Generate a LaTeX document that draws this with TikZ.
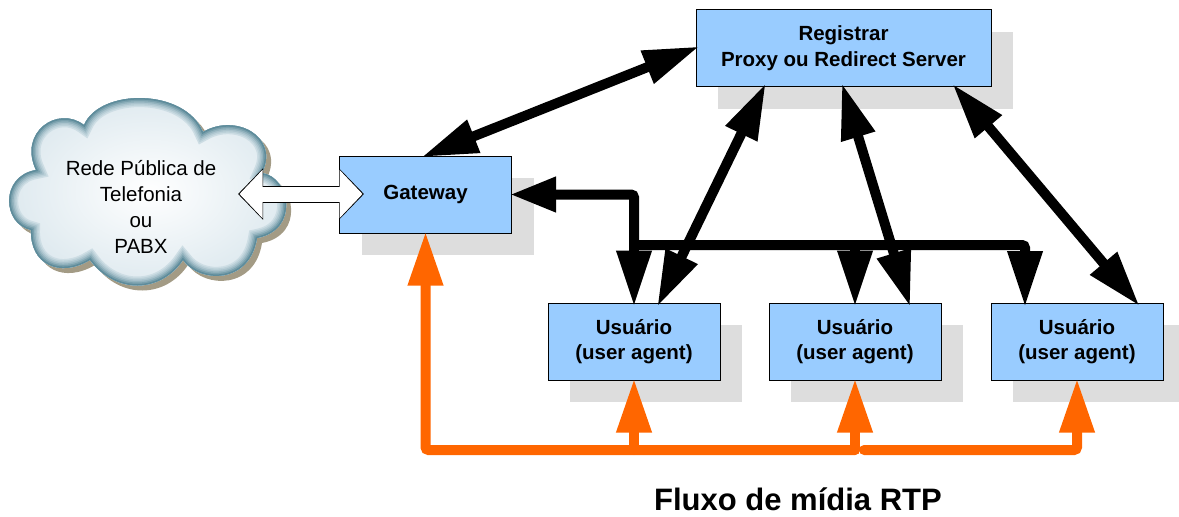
\documentclass[tikz,border=0pt]{standalone}
\usepackage{fontspec}
\setmainfont{Liberation Sans}
\usetikzlibrary{arrows.meta,shadows}
\definecolor{boxblue}{HTML}{99CCFF}
\definecolor{boxshade}{HTML}{DDDDDD}
\definecolor{rtporange}{HTML}{FF6600}
\definecolor{cloudrim}{HTML}{5E8C9B}
\definecolor{cloudface}{HTML}{DCE8EE}
\definecolor{cloudshade}{HTML}{A39B85}
\tikzstyle{sipbox}=[draw=black, line width=1pt, fill=boxblue, minimum width=172pt, minimum height=77pt, inner sep=0, align=center, font=\fontsize{20.5}{24.5}\selectfont\bfseries, copy shadow={shadow xshift=22pt, shadow yshift=-22pt, fill=boxshade, draw=none}]
\tikzstyle{signal}=[draw=black, line width=10pt, rounded corners=3pt, shorten >=-4pt, -{Triangle[length=56pt, width=33pt]}]
\tikzstyle{sipboth}=[draw=black, line width=10pt, shorten >=-4pt, shorten <=-4pt, {Triangle[length=56pt, width=33pt]}-{Triangle[length=56pt, width=33pt]}]
\tikzstyle{rtpflow}=[draw=rtporange, line width=10pt, rounded corners=3pt, line cap=round, -{Triangle[length=54pt, width=33pt]}, shorten >=-2pt]
\tikzstyle{whitelink}=[draw=white, line width=15pt, {Triangle[length=23pt, width=47pt]}-{Triangle[length=23pt, width=47pt]}, shorten <=1.5pt, shorten >=1.5pt, preaction={draw=black, line width=17pt, {Triangle[length=25pt, width=50pt]}-{Triangle[length=25pt, width=50pt]}, shorten <=0pt, shorten >=0pt}]
\newcommand{\cloudoutline}{(31,230) .. controls (2,224) and (0,176) .. (36,170)
  .. controls (18,132) and (58,105) .. (84,125)
  .. controls (100,88) and (185,88) .. (203,132)
  .. controls (235,113) and (280,136) .. (262,173)
  .. controls (290,177) and (300,230) .. (257,238)
  .. controls (250,284) and (200,284) .. (183,260)
  .. controls (160,294) and (115,294) .. (90,260)
  .. controls (60,278) and (30,265) .. (31,230) -- cycle}

\begin{document}
\begin{tikzpicture}[x=1pt, y=-1pt]
\useasboundingbox (0,0) rectangle (1179,517);

% cloud
\fill [cloudshade, shift={(5,5)}] \cloudoutline;
\shade [inner color=white, outer color=cloudface] \cloudoutline;
\begin{scope}
\clip \cloudoutline;
\foreach \wd/\mix in {18/12, 15/25, 12/40, 9/58, 6/78, 3/100}
  \draw [cloudrim!\mix!cloudface, line width=\wd pt] \cloudoutline;
\end{scope}
\node [align=center, inner sep=0, font=\fontsize{20.5}{26}\selectfont] (rede) at (141,207) {Rede Pública de\\Telefonia\\ou\\PABX};

\node [sipbox, minimum width=295pt, font=\fontsize{20.5}{26}\selectfont\bfseries] (registrar) at (843.5, 48) {Registrar\\Proxy ou Redirect Server};
\node [sipbox] (gateway)   at (425.5,194.5) {Gateway};
\node [sipbox] (usera)     at (634,  341.5) {Usuário\\(user agent)};
\node [sipbox] (userb)     at (855,  341.5) {Usuário\\(user agent)};
\node [sipbox] (userc)     at (1077, 341.5) {Usuário\\(user agent)};

\node [inner sep=0, font=\fontsize{31}{36}\selectfont\bfseries] (fluxo) at (798, 499) {Fluxo de mídia RTP};

\coordinate (cloudport)   at (238, 194);
\coordinate (gatewayport) at (364, 194);
\coordinate (regleft)  at (764, 87);
\coordinate (regmid)   at (843, 87);
\coordinate (regright) at (955, 87);
\coordinate (tipa) at (659,  303);
\coordinate (tipb) at (909,  303);
\coordinate (tipc) at (1137, 303);
\coordinate (busa) at (634,  245);
\coordinate (busb) at (1025, 245);
\coordinate (buse) at (1025, 303);
\coordinate (rtpa) at (425.5, 450);
\coordinate (rtpb) at (855,   450);
\coordinate (rtpc) at (864,   450);
\coordinate (rtpd) at (1077,  450);

\draw [whitelink] (cloudport) -- (gatewayport);

\draw [sipboth] (gateway.north) -- (registrar.west);
\draw [sipboth] (regleft)  -- (tipa);
\draw [sipboth] (regmid)   -- (tipb);
\draw [sipboth] (regright) -- (tipc);

\draw [draw=black, line width=10pt, rounded corners=3pt, -{Triangle[length=46pt, width=33pt]}, shorten >=-2pt] (busa) -- (gateway.east -| usera.north) -- (gateway.east);
\draw [signal] (busa) -- (usera.north);
\draw [signal] (busa) -- (busb) -- (buse);
\draw [signal] (busa -| userb.north) -- (userb.north);

\draw [rtpflow] (rtpb) -- (rtpa) -- (gateway.south);
\draw [rtpflow] (rtpa -| usera.south) -- (usera.south);
\draw [rtpflow] (rtpb) -- (userb.south);
\draw [rtpflow] (rtpc) -- (rtpd) -- (userc.south);

\end{tikzpicture}
\end{document}
